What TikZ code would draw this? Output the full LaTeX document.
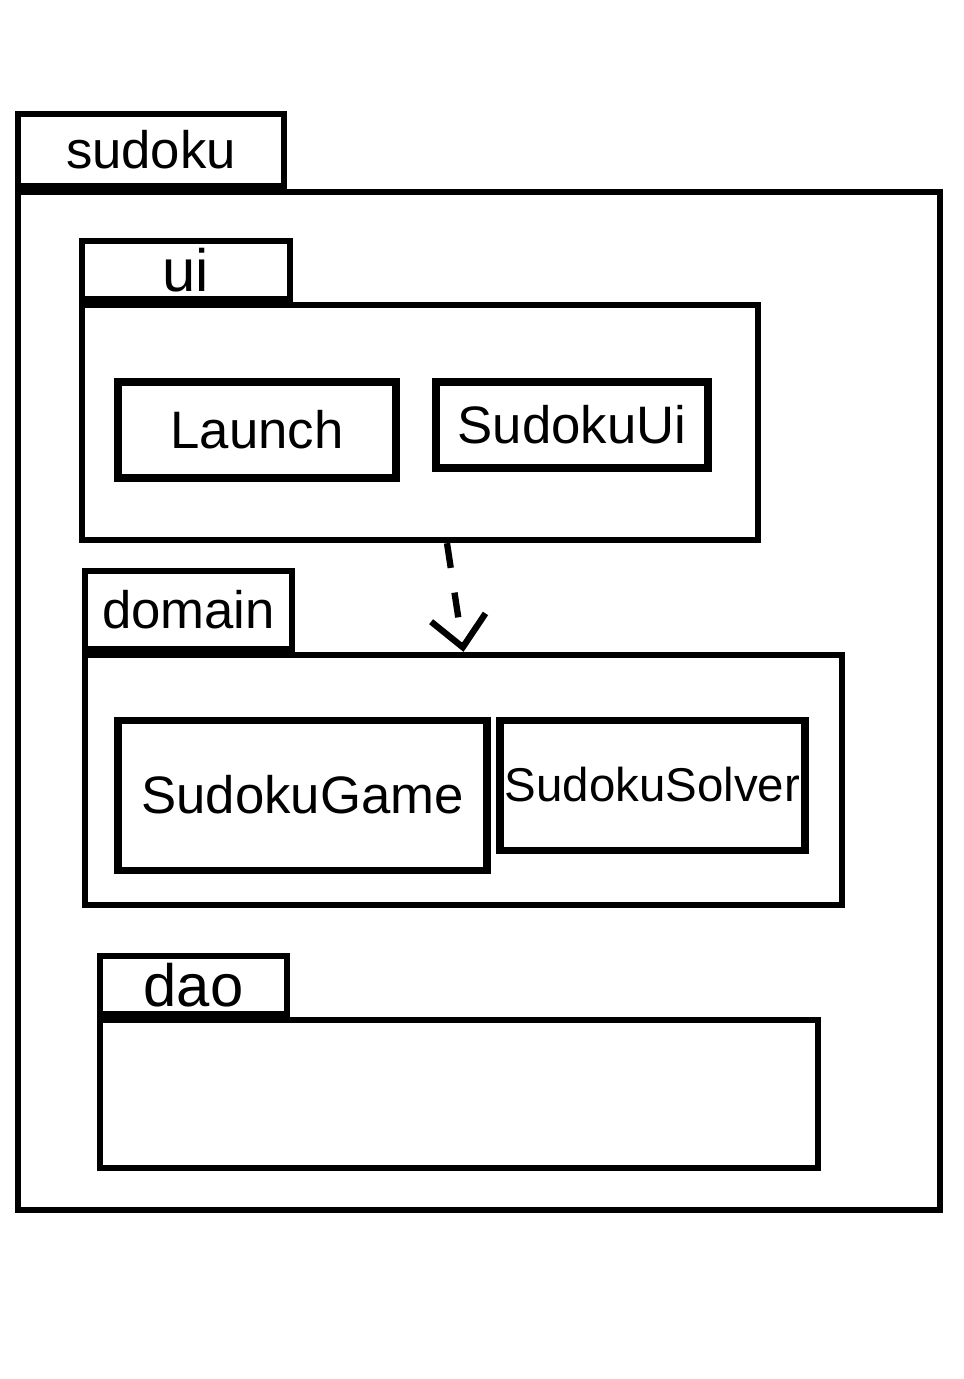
\documentclass[tikz,border=0pt]{standalone}
\usepackage{fontspec}
\setmainfont{Liberation Sans}
\usetikzlibrary{arrows.meta}

\begin{document}
\begin{tikzpicture}[font=\fontsize{15}{18}\selectfont]
	\tikzstyle{bodyStyle}=[draw, line width=1.8pt, inner sep=0pt]
	\tikzstyle{tabStyle}=[draw, line width=1.8pt, inner sep=0pt, anchor=south west]
	\tikzstyle{classStyle}=[draw, line width=2pt, inner sep=0pt]
	\tikzstyle{depStyle}=[line width=1.8pt, dash pattern=on 2.5mm off 2.5mm, -{Straight Barb[length=3mm, width=5.5mm, line width=1.8pt]}]
	\useasboundingbox (0,0) rectangle (9.64,-13.79);
	% sudoku
	\node[bodyStyle, minimum width=9.22cm, minimum height=10.18cm] (sudoku) at (4.79,-7.01) {};
	\node[tabStyle, minimum width=2.66cm, minimum height=0.72cm] (sudokuTab) at (sudoku.north west) {sudoku};
	% ui
	\node[bodyStyle, minimum width=6.76cm, minimum height=2.35cm] (ui) at (4.20,-4.225) {};
	\node[tabStyle, minimum width=2.08cm, minimum height=0.58cm, font=\fontsize{17}{20}\selectfont] (uiTab) at (ui.north west) {ui};
	\node[classStyle, minimum width=2.78cm, minimum height=0.96cm] (launch) at (2.57,-4.30) {Launch};
	\node[classStyle, minimum width=2.72cm, minimum height=0.86cm] (sudokuUi) at (5.72,-4.25) {SudokuUi};
	% domain
	\node[bodyStyle, minimum width=7.57cm, minimum height=2.50cm] (domain) at (4.635,-7.80) {};
	\node[tabStyle, minimum width=2.07cm, minimum height=0.78cm] (domainTab) at (domain.north west) {domain};
	\node[classStyle, minimum width=3.69cm, minimum height=1.50cm] (sudokuGame) at (3.025,-7.95) {SudokuGame};
	\node[classStyle, minimum width=3.05cm, minimum height=1.30cm, font=\fontsize{13.5}{16}\selectfont] (sudokuSolver) at (6.525,-7.85) {SudokuSolver};
	% dao
	\node[bodyStyle, minimum width=7.18cm, minimum height=1.48cm] (dao) at (4.59,-10.94) {};
	\node[tabStyle, minimum width=1.87cm, minimum height=0.58cm, font=\fontsize{17}{20}\selectfont] (daoTab) at (dao.north west) {dao};
	% dependency
	\draw[depStyle] ([xshift=2.7mm]ui.south) -- (domain.north);
\end{tikzpicture}
\end{document}
